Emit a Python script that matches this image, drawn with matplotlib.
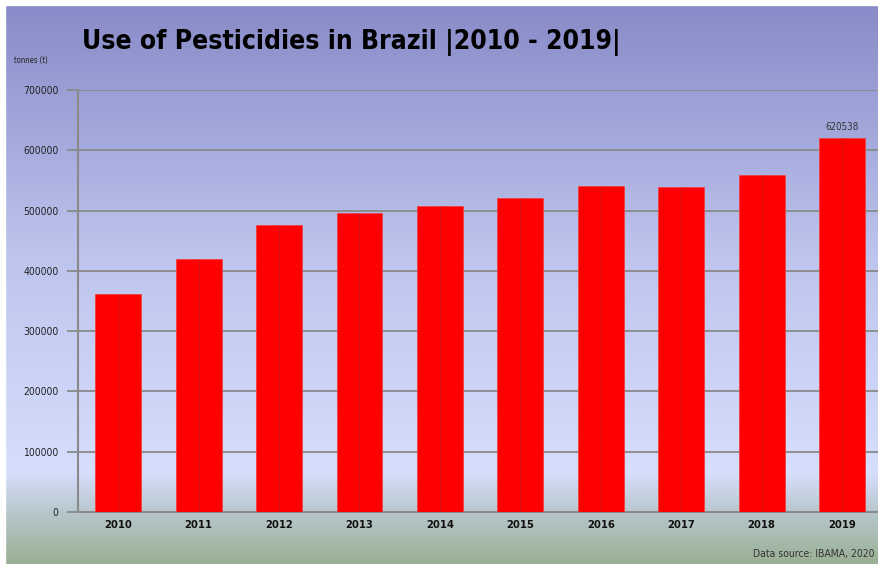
import numpy as np
import matplotlib
matplotlib.use('Agg')
import matplotlib.pyplot as plt
from matplotlib.colors import LinearSegmentedColormap

# --- data ---
years = ['2010', '2011', '2012', '2013', '2014', '2015', '2016', '2017', '2018', '2019']
tonnes = [362000, 420000, 476000, 496000, 508000, 521000, 541000, 539000, 559000, 620538]
yticks = [0, 100000, 200000, 300000, 400000, 500000, 600000, 700000]
ytick_labels = ['0', '100000', '200000', '300000', '400000', '500000', '600000', '700000']

W, H = 879, 564

# condensed face, closest thing to the narrow font of the original
plt.rcParams['font.family'] = ['DejaVu Sans']
plt.rcParams['font.stretch'] = 'condensed'

fig = plt.figure(figsize=(W / 100, H / 100), dpi=100)

# --- background gradient (purple at top -> pale blue -> grey-green at bottom) ---
bg = fig.add_axes([0, 0, 1, 1], zorder=0)
stops = [(0.0, (0.53, 0.54, 0.78)),
         (0.45, (0.74, 0.77, 0.93)),
         (0.84, (0.84, 0.87, 0.99)),
         (0.91, (0.72, 0.78, 0.80)),
         (1.0, (0.60, 0.69, 0.58))]
cmap = LinearSegmentedColormap.from_list('bg', stops)
grad = np.linspace(0, 1, 256).reshape(-1, 1)
bg.imshow(grad, aspect='auto', cmap=cmap, extent=[0, 1, 0, 1], origin='upper')
bg.set_xlim(0, 1)
bg.set_ylim(0, 1)
# thin white border at the left and top
bg.axvspan(0, 5 / W, color='white')
bg.axhspan(1 - 5 / H, 1, color='white')
bg.axis('off')

# --- main axes ---
ax = fig.add_axes([78 / W, 52 / H, (W - 78) / W, 422 / H], zorder=1)
ax.patch.set_alpha(0)

x = np.arange(len(years))
ax.bar(x, tonnes, width=0.57, color='#ff0000', edgecolor='#f04040', linewidth=0.6, zorder=3)
# the thin darker line down the middle of each bar
ax.vlines(x, 0, tonnes, color='#d81010', linewidth=0.9, zorder=4)

ax.set_xlim(-0.5, 9.46)
ax.set_ylim(0, 700000)
ax.set_yticks(yticks)
ax.set_yticklabels(ytick_labels, fontsize=7.5, color='#222222')
ax.set_xticks(x)
ax.set_xticklabels(years, fontsize=8, fontweight='bold', color='#111111')
ax.tick_params(axis='y', length=8, width=1.3, color='#8a8a8a', pad=6)
ax.tick_params(axis='x', length=0, pad=6)
ax.grid(axis='y', color='#8a8a8a', linewidth=1.3, zorder=1)
ax.set_axisbelow(True)

for side in ['top', 'right']:
    ax.spines[side].set_visible(False)
for side in ['left', 'bottom']:
    ax.spines[side].set_color('#8a8a8a')
    ax.spines[side].set_linewidth(1.5)

# value label over the last bar
ax.text(x[-1], tonnes[-1] + 9000, f'{tonnes[-1]}', ha='center', va='bottom',
        fontsize=7, color='#333333')

# --- texts ---
fig.text(82 / W, 1 - 49 / H, 'Use of Pesticidies in Brazil |2010 - 2019|',
         fontsize=19, fontweight='bold', color='black', va='baseline')
fig.text(14 / W, 1 - 63 / H, 'tonnes (t)', fontsize=5.5, color='#222222', va='baseline')
fig.text(875 / W, 1 - 557 / H, 'Data source: IBAMA, 2020', fontsize=7.5,
         color='#333333', ha='right', va='baseline')

fig.savefig('out.png', dpi=100)
